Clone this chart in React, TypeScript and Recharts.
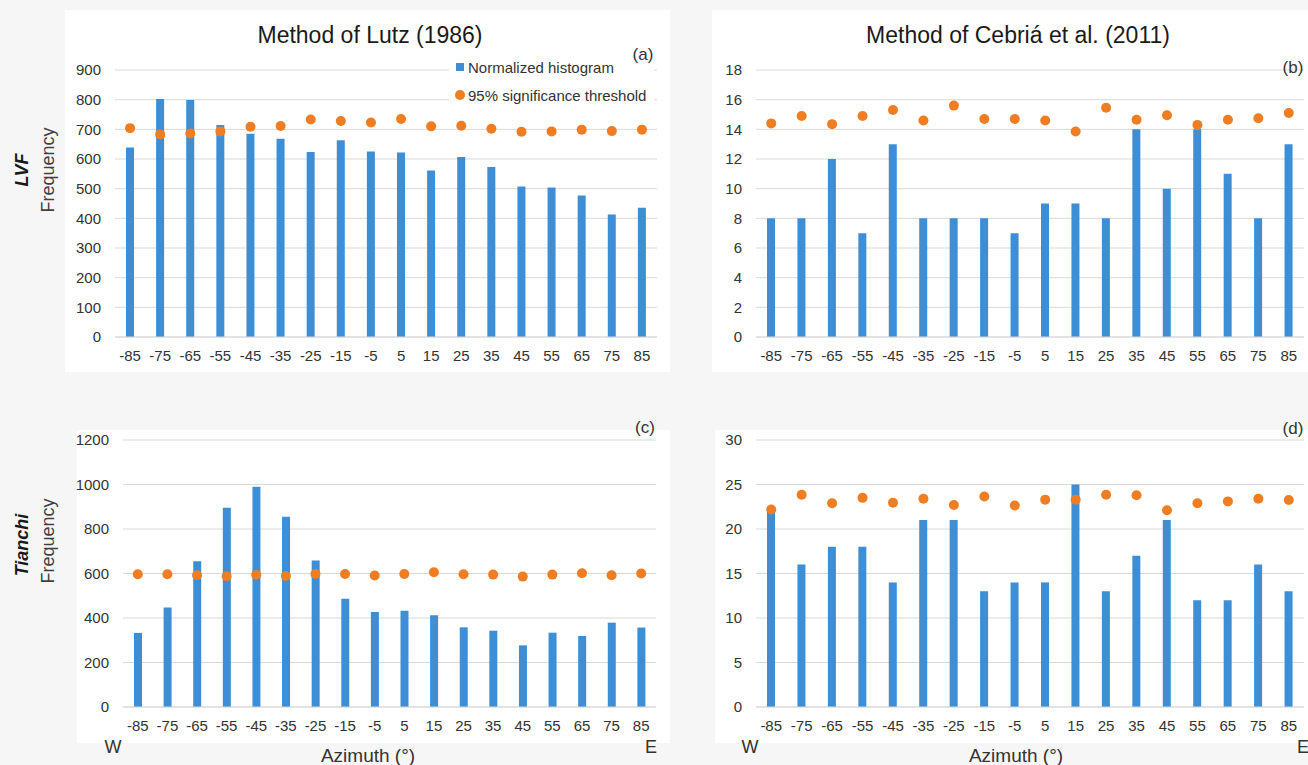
import React from 'react';
import { ComposedChart, Bar, Line, XAxis, YAxis, CartesianGrid } from 'recharts';

const categories = ['-85', '-75', '-65', '-55', '-45', '-35', '-25', '-15', '-5', '5', '15', '25', '35', '45', '55', '65', '75', '85'];

// (a) LVF, method of Lutz (1986)
const lutzLvfHist = [639, 802, 799, 715, 685, 668, 624, 663, 625, 622, 561, 607, 573, 507, 504, 477, 413, 436];
const lutzLvfThr = [704, 683, 686, 693, 709, 711, 733, 728, 723, 735, 710, 712, 702, 692, 693, 699, 694, 699];

// (b) LVF, method of Cebriá et al. (2011)
const cebriaLvfHist = [8, 8, 12, 7, 13, 8, 8, 8, 7, 9, 9, 8, 14, 10, 14, 11, 8, 13];
const cebriaLvfThr = [14.4, 14.9, 14.35, 14.9, 15.3, 14.6, 15.6, 14.7, 14.7, 14.6, 13.85, 15.45, 14.65, 14.95, 14.3, 14.65, 14.75, 15.1];

// (c) Tianchi, method of Lutz (1986)
const lutzTianchiHist = [333, 447, 655, 895, 990, 855, 658, 487, 427, 433, 412, 358, 343, 277, 334, 319, 379, 357];
const lutzTianchiThr = [597, 597, 592, 588, 594, 589, 598, 598, 591, 598, 606, 597, 595, 586, 595, 601, 592, 600];

// (d) Tianchi, method of Cebriá et al. (2011)
const cebriaTianchiHist = [22, 16, 18, 18, 14, 21, 21, 13, 14, 14, 25, 13, 17, 21, 12, 12, 16, 13];
const cebriaTianchiThr = [22.2, 23.85, 22.9, 23.5, 22.95, 23.4, 22.7, 23.65, 22.65, 23.3, 23.3, 23.85, 23.8, 22.1, 22.9, 23.1, 23.4, 23.25];

const ticksA = [0, 100, 200, 300, 400, 500, 600, 700, 800, 900];
const ticksB = [0, 2, 4, 6, 8, 10, 12, 14, 16, 18];
const ticksC = [0, 200, 400, 600, 800, 1000, 1200];
const ticksD = [0, 5, 10, 15, 20, 25, 30];

const BLUE = '#3e8ed6';
const ORANGE = '#f07d22';
const GRID = '#d9d9d9';
const FONT = '"Liberation Sans", Arial, Helvetica, sans-serif';

const build = (hist: number[], thr: number[]) =>
  categories.map((c, i) => ({ cat: c, hist: hist[i], thr: thr[i] }));

type PanelProps = {
  data: { cat: string; hist: number; thr: number }[];
  left: number;
  top: number;
  width: number;
  ticks: number[];
};

function Panel({ data, left, top, width, ticks }: PanelProps) {
  return (
    <div style={{ position: 'absolute', left, top }}>
      <ComposedChart
        width={width}
        height={307}
        data={data}
        margin={{ top: 10, right: 4, left: 0, bottom: 0 }}
      >
        <CartesianGrid vertical={false} stroke={GRID} />
        <XAxis
          dataKey="cat"
          interval={0}
          tickLine={false}
          axisLine={{ stroke: GRID }}
          tick={{ fontSize: 15, fill: '#333333' }}
          tickMargin={7}
          height={30}
        />
        <YAxis
          domain={[ticks[0], ticks[ticks.length - 1]]}
          ticks={ticks}
          interval={0}
          tickLine={false}
          axisLine={false}
          width={50}
          tickMargin={8}
          tick={{ fontSize: 15, fill: '#333333' }}
        />
        <Bar dataKey="hist" fill={BLUE} barSize={8} isAnimationActive={false} />
        <Line
          dataKey="thr"
          stroke="none"
          strokeWidth={0}
          dot={{ r: 5, fill: ORANGE, stroke: 'none', strokeWidth: 0 }}
          activeDot={false}
          isAnimationActive={false}
        />
      </ComposedChart>
    </div>
  );
}

const whiteBox = (left: number, top: number, w: number, h: number) => (
  <div style={{ position: 'absolute', left, top, width: w, height: h, background: '#ffffff' }} />
);

export default function App() {
  return (
    <div
      style={{
        position: 'absolute',
        left: 0,
        top: 0,
        width: 1308,
        height: 765,
        background: '#f6f6f6',
        fontFamily: FONT,
        overflow: 'hidden',
      }}
    >
      {whiteBox(65, 10, 605, 362)}
      {whiteBox(712, 10, 596, 362)}
      {whiteBox(77, 430, 593, 313)}
      {whiteBox(715, 430, 593, 313)}

      <Panel data={build(lutzLvfHist, lutzLvfThr)} left={65} top={60} width={596} ticks={ticksA} />
      <Panel data={build(cebriaLvfHist, cebriaLvfThr)} left={706} top={60} width={602} ticks={ticksB} />
      <Panel data={build(lutzTianchiHist, lutzTianchiThr)} left={73} top={430} width={587} ticks={ticksC} />
      <Panel data={build(cebriaTianchiHist, cebriaTianchiThr)} left={706} top={430} width={602} ticks={ticksD} />

      <svg
        width={1308}
        height={765}
        style={{ position: 'absolute', left: 0, top: 0, pointerEvents: 'none', fontFamily: FONT }}
      >
        <text x={370} y={35} fontSize={23} fill="#1a1a1a" textAnchor="middle" dominantBaseline="central">
          Method of Lutz (1986)
        </text>
        <text x={1018} y={35} fontSize={23} fill="#1a1a1a" textAnchor="middle" dominantBaseline="central">
          Method of Cebriá et al. (2011)
        </text>

        {/* legend */}
        <rect x={449} y={57} width={205} height={53} fill="#ffffff" />
        <rect x={456} y={63} width={8} height={8} fill={BLUE} />
        <text x={468} y={67} fontSize={15} fill="#333" dominantBaseline="central">Normalized histogram</text>
        <circle cx={460} cy={95} r={5} fill={ORANGE} />
        <text x={468} y={95} fontSize={15} fill="#333" dominantBaseline="central">95% significance threshold</text>

        <text x={643} y={54} fontSize={17} fill="#333" textAnchor="middle" dominantBaseline="central">(a)</text>
        <text x={1293} y={67} fontSize={17} fill="#333" textAnchor="middle" dominantBaseline="central">(b)</text>
        <text x={645} y={427} fontSize={17} fill="#333" textAnchor="middle" dominantBaseline="central">(c)</text>
        <text x={1293} y={428} fontSize={17} fill="#333" textAnchor="middle" dominantBaseline="central">(d)</text>

        {/* row labels */}
        <text x={22} y={170} fontSize={18} fontWeight="bold" fontStyle="italic" fill="#1a1a1a" textAnchor="middle" dominantBaseline="central" transform="rotate(-90 22 170)">LVF</text>
        <text x={48} y={170} fontSize={18} fill="#404040" textAnchor="middle" dominantBaseline="central" transform="rotate(-90 48 170)">Frequency</text>
        <text x={22} y={545} fontSize={18} fontWeight="bold" fontStyle="italic" fill="#1a1a1a" textAnchor="middle" dominantBaseline="central" transform="rotate(-90 22 545)">Tianchi</text>
        <text x={48} y={541} fontSize={18} fill="#404040" textAnchor="middle" dominantBaseline="central" transform="rotate(-90 48 541)">Frequency</text>

        {/* W / E and axis titles */}
        <text x={113} y={747} fontSize={18} fill="#333" textAnchor="middle" dominantBaseline="central">W</text>
        <text x={651} y={747} fontSize={18} fill="#333" textAnchor="middle" dominantBaseline="central">E</text>
        <text x={368} y={755} fontSize={19} fill="#333" textAnchor="middle" dominantBaseline="central">Azimuth (°)</text>
        <text x={750} y={747} fontSize={18} fill="#333" textAnchor="middle" dominantBaseline="central">W</text>
        <text x={1303} y={747} fontSize={18} fill="#333" textAnchor="middle" dominantBaseline="central">E</text>
        <text x={1016} y={755} fontSize={19} fill="#333" textAnchor="middle" dominantBaseline="central">Azimuth (°)</text>
      </svg>
    </div>
  );
}
